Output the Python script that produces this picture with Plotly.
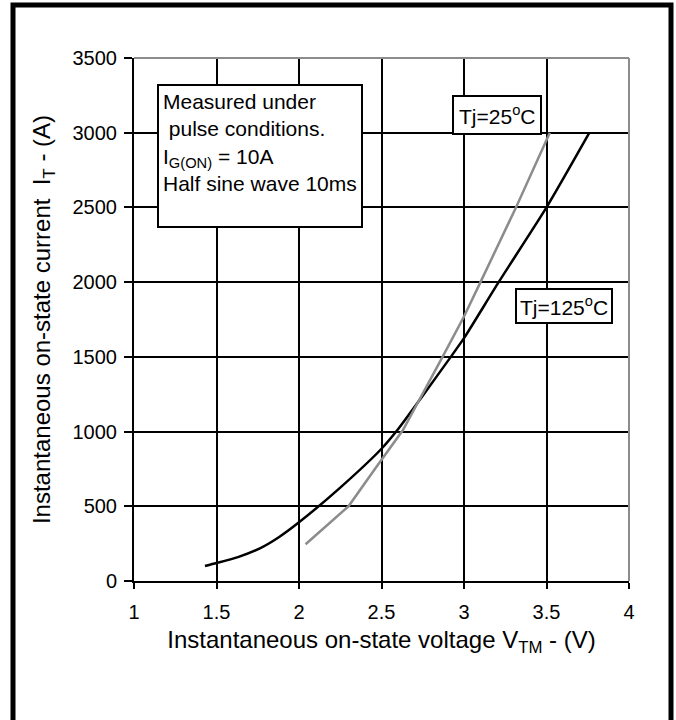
import plotly.graph_objects as go

# Data
v_125 = [1.43, 1.5, 1.63, 1.76, 1.88, 2.0, 2.25, 2.5, 2.6, 2.75, 2.92, 3.0, 3.21, 3.5, 3.76]
i_125 = [100, 120, 160, 217, 295, 393, 625, 885, 1015, 1240, 1500, 1625, 2000, 2500, 3000]

v_25 = [2.04, 2.30, 2.46, 2.63, 2.87, 3.0, 3.10, 3.315, 3.52]
i_25 = [246, 500, 750, 1010, 1500, 1770, 2000, 2500, 3000]

x_ticks = [1, 1.5, 2, 2.5, 3, 3.5, 4]
x_tick_text = ["1", "1.5", "2", "2.5", "3", "3.5", "4"]
y_ticks = [0, 500, 1000, 1500, 2000, 2500, 3000, 3500]

FONT = "Liberation Sans, Arial, Helvetica, sans-serif"

W, H = 676, 720
ML, MR, MT, MB = 134, 47, 58, 139
PW, PH = W - ML - MR, H - MT - MB


def px(xp):
    return (xp - ML) / PW


def py(yp):
    return (H - MB - yp) / PH


fig = go.Figure()
fig.add_trace(go.Scatter(x=v_125, y=i_125, mode="lines", line=dict(color="black", width=2.5, shape="spline", smoothing=0.6),
                         name="Tj=125°C", showlegend=False, hoverinfo="skip"))
fig.add_trace(go.Scatter(x=v_25, y=i_25, mode="lines", line=dict(color="#8c8c8c", width=2.5),
                         name="Tj=25°C", showlegend=False, hoverinfo="skip"))

fig.update_layout(
    width=W, height=H,
    margin=dict(l=ML, r=MR, t=MT, b=MB, autoexpand=False),
    paper_bgcolor="white", plot_bgcolor="white",
    font=dict(family=FONT, size=20, color="black"),
    xaxis=dict(range=[1, 4], tickvals=x_ticks, ticktext=x_tick_text,
               showgrid=True, gridcolor="black", gridwidth=2,
               showline=True, linecolor="black", linewidth=2,
               ticks="outside", ticklen=6, tickwidth=2, tickcolor="black",
               ticklabelstandoff=6,
               zeroline=False, automargin=False,
               title=dict(text="Instantaneous on-state voltage V<sub>TM</sub> - (V)", font=dict(size=24), standoff=9),
               tickfont=dict(size=20)),
    yaxis=dict(range=[0, 3500], tickvals=y_ticks,
               showgrid=True, gridcolor="black", gridwidth=2,
               showline=True, linecolor="black", linewidth=2,
               ticks="outside", ticklen=8, tickwidth=2, tickcolor="black",
               ticklabelstandoff=3,
               zeroline=False, automargin=False,
               title=dict(text="Instantaneous on-state current  I<sub>T</sub> - (A)", font=dict(size=24), standoff=15),
               tickfont=dict(size=20)),
    shapes=[
        # gray top and right plot borders
        dict(type="line", xref="paper", yref="paper", x0=0, x1=1, y0=1, y1=1, line=dict(color="#8c8c8c", width=2)),
        dict(type="line", xref="paper", yref="paper", x0=1, x1=1, y0=0, y1=1, line=dict(color="#8c8c8c", width=2)),
        # outer frame
        dict(type="rect", xref="paper", yref="paper", x0=px(13), x1=px(671), y0=py(724), y1=py(5),
             line=dict(color="black", width=5), layer="above"),
    ],
    annotations=[
        dict(xref="paper", yref="paper", x=px(157), y=py(84), xanchor="left", yanchor="top",
             text="Measured under<br>&nbsp;pulse conditions.<br>I<sub>G(ON)</sub> = 10A<br>Half sine wave 10ms",
             align="left", valign="top", showarrow=False, width=194, height=132, borderpad=4,
             bordercolor="black", borderwidth=2, bgcolor="white", font=dict(size=21)),
        dict(xref="paper", yref="paper", x=px(497), y=py(95), xanchor="center", yanchor="top",
             text="Tj=25<sup>o</sup>C", showarrow=False, borderpad=5,
             bordercolor="black", borderwidth=2, bgcolor="white", font=dict(size=21)),
        dict(xref="paper", yref="paper", x=px(564), y=py(288), xanchor="center", yanchor="top",
             text="Tj=125<sup>o</sup>C", showarrow=False, borderpad=3,
             bordercolor="black", borderwidth=2, bgcolor="white", font=dict(size=21)),
    ],
)

fig.write_html("out.html", config={"displayModeBar": False},
               post_script="document.body.style.margin='0';document.body.style.overflow='hidden';")
